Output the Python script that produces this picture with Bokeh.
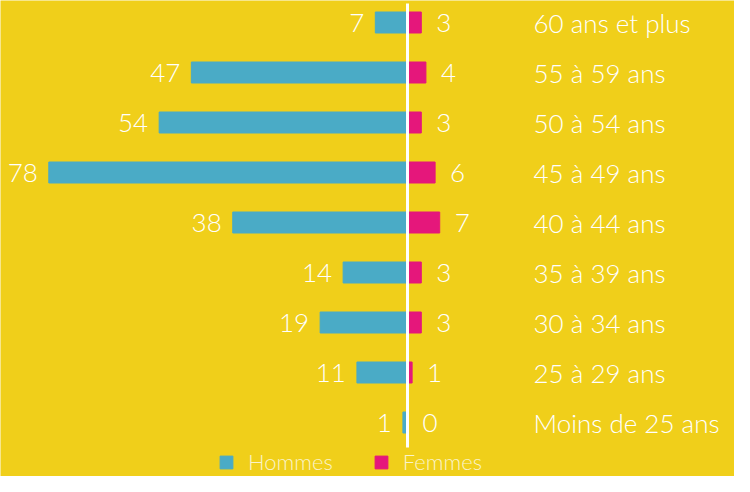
from bokeh.plotting import figure
from bokeh.models import ColumnDataSource, Range1d, Legend, LegendItem
from bokeh.core.properties import value
from bokeh.embed import file_html
from bokeh.resources import INLINE

# Data (bottom to top)
categories = ["Moins de 25 ans", "25 à 29 ans", "30 à 34 ans", "35 à 39 ans",
              "40 à 44 ans", "45 à 49 ans", "50 à 54 ans", "55 à 59 ans", "60 ans et plus"]
hommes = [1, 11, 19, 14, 38, 78, 54, 47, 7]
femmes = [0, 1, 3, 3, 7, 6, 3, 4, 3]
series_names = ["Hommes", "Femmes"]

BG = "#F0CF1A"
BLUE = "#4AABC6"
PINK = "#E5177B"
FONT = "Lato Light"

ys = list(range(len(categories)))
src = ColumnDataSource(dict(
    y=ys,
    cat=categories,
    h_left=[-v for v in hommes],
    h=hommes,
    f=femmes,
    h_txt=[str(v) for v in hommes],
    f_txt=[str(v) for v in femmes],
    zero=[0] * len(ys),
    lab_x=[27.4] * len(ys),
))

p = figure(width=734, height=476, output_backend="svg", toolbar_location=None,
           x_range=Range1d(-88.5, 71.1), y_range=Range1d(-1.08, 8.44),
           min_border=0, background_fill_color=BG, border_fill_color=BG,
           outline_line_color=None)
p.axis.visible = False
p.grid.visible = False

rh = p.hbar(y="y", left="h_left", right="zero", height=0.42, color=BLUE, source=src)
rf = p.hbar(y="y", left="zero", right="f", height=0.42, color=PINK, source=src)

p.segment(x0=0, y0=-0.5, x1=0, y1=len(categories) - 0.62, line_color="white", line_width=3)

p.text(x="h_left", y="y", text="h_txt", source=src, text_align="right", text_baseline="middle",
       x_offset=-11, text_color="white", text_font=value(FONT), text_font_size="26px")
p.text(x="f", y="y", text="f_txt", source=src, text_align="left", text_baseline="middle",
       x_offset=15, text_color="white", text_font=value(FONT), text_font_size="26px")
p.text(x="lab_x", y="y", text="cat", source=src, text_align="left", text_baseline="middle",
       text_color="white", text_font=value(FONT), text_font_size="26px")

legend = Legend(items=[LegendItem(label=series_names[0], renderers=[rh]),
                       LegendItem(label=series_names[1], renderers=[rf])],
                orientation="horizontal", location=(218, 1),
                background_fill_alpha=0, border_line_color=None,
                glyph_width=16, glyph_height=16, label_text_font=FONT,
                label_text_font_size="22px", label_text_color="#FAF3C8",
                padding=0, margin=0, spacing=40, label_standoff=14)
p.add_layout(legend, "center")

open("out.html", "w").write(file_html(p, INLINE))
